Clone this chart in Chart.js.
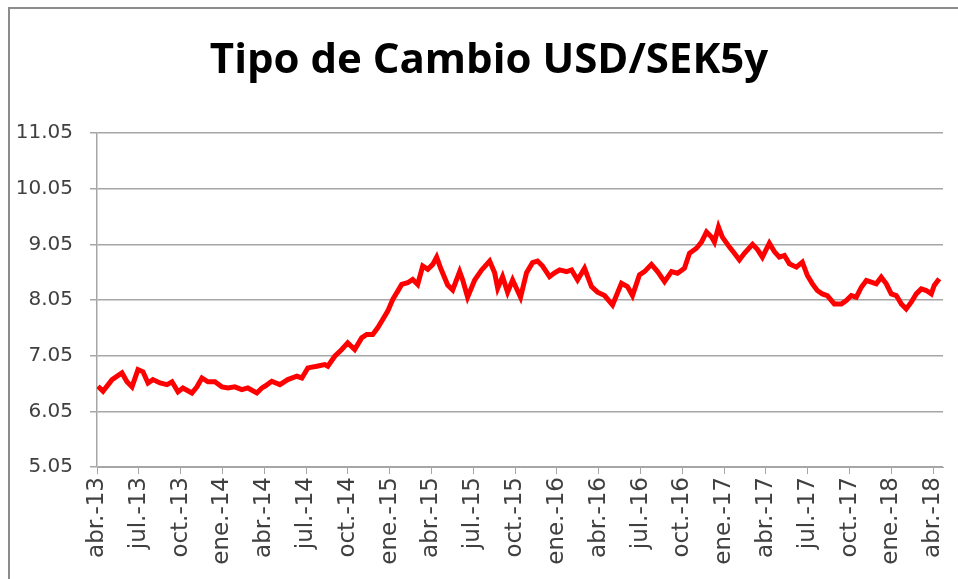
<!DOCTYPE html>
<html>
<head>
<meta charset="utf-8">
<script src="https://cdn.jsdelivr.net/npm/chart.js@4"></script>
<style>
  html, body { margin: 0; padding: 0; background: #fff; overflow: hidden; width: 958px; height: 579px; }
  #frame { position: absolute; left: 8px; top: 7px; right: 0; bottom: 0; border-left: 2px solid #8c8c8c; border-top: 2px solid #8c8c8c; }
  #wrap { position: absolute; left: 0; top: 0; width: 958px; height: 579px; }
</style>
</head>
<body>
<div id="frame"></div>
<div id="wrap"><canvas id="myChart"></canvas></div>
<script>
const chartTitle = 'Tipo de Cambio USD/SEK5y'

// quarterly labels on the date axis, one every 3 months from abr.-13
const tickLabels = ['abr.-13', 'jul.-13', 'oct.-13', 'ene.-14', 'abr.-14', 'jul.-14', 'oct.-14',
  'ene.-15', 'abr.-15', 'jul.-15', 'oct.-15', 'ene.-16', 'abr.-16', 'jul.-16', 'oct.-16',
  'ene.-17', 'abr.-17', 'jul.-17', 'oct.-17', 'ene.-18', 'abr.-18']
const yTicks = [5.05, 6.05, 7.05, 8.05, 9.05, 10.05, 11.05]

// months since abr.-13
const monthsFromStart = [
  0.07, 0.43, 1.08, 1.79, 2.15, 2.51, 2.94, 3.30, 3.66, 4.01, 4.52, 5.02, 5.38, 5.81, 6.16,
  6.81, 7.17, 7.53, 7.96, 8.46, 8.96, 9.39, 9.89, 10.39, 10.82, 11.47, 11.83, 12.04, 12.54,
  13.12, 13.69, 14.34, 14.70, 15.13, 15.77, 16.34, 16.56, 17.06, 17.56, 17.99, 18.49, 18.99,
  19.35, 19.78, 20.14, 20.50, 20.86, 21.22, 21.58, 21.86, 22.29, 22.65, 23.01, 23.37, 23.73,
  24.09, 24.37, 24.66, 25.16, 25.52, 26.02, 26.24, 26.59, 27.10, 27.60, 28.17, 28.53, 28.75,
  29.10, 29.46, 29.82, 30.39, 30.82, 31.25, 31.61, 31.97, 32.47, 32.83, 33.19, 33.69, 34.05,
  34.48, 34.98, 35.48, 35.91, 36.42, 36.99, 37.63, 38.06, 38.42, 38.92, 39.28, 39.78, 40.22,
  40.72, 41.22, 41.65, 42.15, 42.51, 43.01, 43.37, 43.73, 44.09, 44.30, 44.59, 44.87, 45.38,
  45.73, 46.09, 46.45, 47.03, 47.38, 47.74, 48.24, 48.60, 48.96, 49.32, 49.68, 50.18, 50.61,
  50.97, 51.33, 51.68, 52.04, 52.40, 52.90, 53.41, 53.76, 54.12, 54.48, 54.84, 55.20, 55.56,
  55.91, 56.27, 56.63, 56.99, 57.35, 57.71, 58.06, 58.42, 58.78, 59.14, 59.50, 59.86, 60.07,
  60.43
]
const usdSek = [
  6.50, 6.41, 6.62, 6.74, 6.58, 6.49, 6.80, 6.76, 6.56, 6.62, 6.56, 6.53, 6.58, 6.40, 6.47,
  6.38, 6.49, 6.65, 6.58, 6.58, 6.49, 6.47, 6.49, 6.44, 6.47, 6.38, 6.47, 6.50, 6.59,
  6.53, 6.62, 6.68, 6.65, 6.83, 6.86, 6.89, 6.86, 7.04, 7.16, 7.28, 7.16, 7.37,
  7.43, 7.43, 7.55, 7.70, 7.85, 8.06, 8.21, 8.33, 8.36, 8.42, 8.33, 8.66, 8.60,
  8.69, 8.82, 8.62, 8.32, 8.23, 8.56, 8.41, 8.10, 8.41, 8.59, 8.75, 8.54, 8.26,
  8.47, 8.19, 8.41, 8.10, 8.54, 8.72, 8.75, 8.66, 8.47, 8.54, 8.59, 8.56, 8.59,
  8.41, 8.62, 8.29, 8.19, 8.13, 7.96, 8.35, 8.29, 8.13, 8.50, 8.56, 8.69, 8.56,
  8.38, 8.56, 8.53, 8.62, 8.89, 8.98, 9.09, 9.27, 9.18, 9.09, 9.36, 9.18, 9.00,
  8.89, 8.77, 8.89, 9.05, 8.96, 8.82, 9.07, 8.92, 8.82, 8.85, 8.70, 8.64, 8.73,
  8.49, 8.34, 8.22, 8.16, 8.13, 7.98, 7.98, 8.04, 8.13, 8.10, 8.28, 8.40, 8.37,
  8.34, 8.46, 8.34, 8.16, 8.13, 7.98, 7.89, 8.01, 8.16, 8.25, 8.22, 8.16, 8.31,
  8.43
]

const points = monthsFromStart.map((m, i) => ({ x: m, y: usdSek[i] }))

const gridColor = '#a6a6a6'

// title sits a little right of the canvas centre, like the original
const titlePlugin = {
  id: 'chartTitle',
  afterDraw(chart) {
    const ctx = chart.ctx
    ctx.save()
    ctx.font = 'bold 42px "Open Sans"'
    ctx.fillStyle = '#000'
    ctx.textAlign = 'center'
    ctx.textBaseline = 'alphabetic'
    ctx.fillText(chartTitle, chart.width / 2 + 10, 73)
    ctx.restore()
  }
}

const config = {
  type: 'line',
  data: {
    datasets: [{
      label: 'USD/SEK5y',
      data: points,
      borderColor: 'rgb(255, 0, 0)',
      backgroundColor: 'rgb(255, 0, 0)',
      borderWidth: 5,
      pointRadius: 0,
      tension: 0
    }]
  },
  options: {
    responsive: true,
    maintainAspectRatio: false,
    animation: false,
    layout: { padding: { left: 8, right: 15, top: 133, bottom: 0 } },
    plugins: {
      legend: { display: false },
      tooltip: { enabled: false },
      title: { display: false }
    },
    scales: {
      x: {
        type: 'linear',
        min: 0,
        max: 60.7,
        afterBuildTicks: (axis) => {
          axis.ticks = tickLabels.map((t, i) => ({ value: i * 3 }))
        },
        afterFit: (scale) => {
          scale.height = 112
          scale.paddingRight = 0
          scale.paddingLeft = 0
        },
        ticks: {
          autoSkip: false,
          maxRotation: 90,
          minRotation: 90,
          color: '#404040',
          font: { family: 'DejaVu Sans', size: 23 },
          padding: 3,
          callback: (value, index) => tickLabels[index]
        },
        grid: { drawOnChartArea: false, drawTicks: true, tickLength: 7, color: gridColor },
        border: { display: true, color: gridColor, width: 1 }
      },
      y: {
        min: 5.05,
        max: 11.05,
        afterBuildTicks: (axis) => {
          axis.ticks = yTicks.map(v => ({ value: v }))
        },
        afterFit: (scale) => { scale.width = 89 },
        ticks: {
          color: '#404040',
          font: { family: 'DejaVu Sans', size: 20 },
          padding: 17,
          callback: (value) => value.toFixed(2)
        },
        grid: { color: gridColor, lineWidth: 1.5, tickLength: 7 },
        border: { display: true, color: gridColor, width: 1.5 }
      }
    }
  },
  plugins: [titlePlugin]
}

const myChart = new Chart(document.getElementById('myChart'), config)
</script>
</body>
</html>
